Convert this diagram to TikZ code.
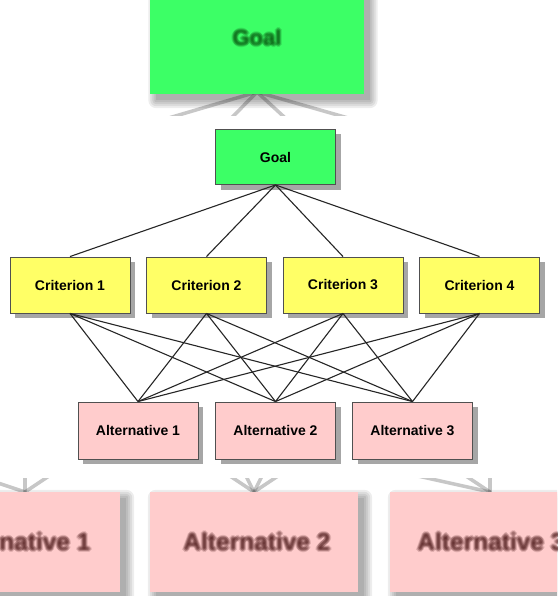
\documentclass[tikz,border=0pt]{standalone}
\usepackage{fontspec}
\setmainfont{Liberation Sans}
\usetikzlibrary{shadows,calc}
\definecolor{goalgreen}{RGB}{60,255,102}
\definecolor{crityellow}{RGB}{255,255,102}
\definecolor{altpink}{RGB}{255,204,204}
\definecolor{boxedge}{RGB}{80,80,80}
\tikzset{
  box/.style={draw=boxedge, line width=0.9pt, minimum width=120pt, minimum height=56pt,
    font=\bfseries\fontsize{14}{16}\selectfont, inner sep=0pt,
    drop shadow={shadow xshift=5pt, shadow yshift=-5pt, fill=black!35, opacity=1}},
  goalbox/.style={box, fill=goalgreen},
  critbox/.style={box, fill=crityellow},
  altbox/.style={box, fill=altpink},
  link/.style={draw=black!85, line width=1.1pt},
  bgbox/.style={inner sep=0pt, draw=none},
  bgline/.style={draw=black!55, line width=3.5pt, opacity=0.4, line cap=round},
  bgtext/.style={font=\bfseries\fontsize{22}{24}\selectfont, inner sep=0pt, text opacity=0.14},
  bgalttext/.style={bgtext, font=\bfseries\fontsize{24.5}{26}\selectfont}
}
% soft shadow behind a background box: #1 = node name
\newcommand{\softshadow}[1]{%
  \foreach \k in {0,2,4,6,8}
    \fill[black, opacity=0.07, rounded corners=\k pt]
      ($(#1.north west)+(6-\k,6-\k)$) rectangle ($(#1.south east)+(6+\k,6+\k)$);}
% blurred text: #1 = style, #2 = position, #3 = text, #4 = colour
\newcommand{\blurtext}[4]{%
  \foreach \bdx/\bdy in {-2/0,2/0,0/-2,0/2,-1/-1,1/1,1/-1,-1/1,0/0}
    \node[#1, text=#4] at ($(#2)+(\bdx,\bdy)$) {#3};}
\begin{document}
\begin{tikzpicture}[x=1pt,y=-1pt]
\useasboundingbox (0,0) rectangle (557,596);
\fill[white] (0,0) rectangle (557,596);
% ---- blurred top band
\begin{scope}
\clip (0,0) rectangle (557,116);
\coordinate (bgG) at (257,44);
\coordinate (bgGs) at (257,92);
\coordinate (bgL1) at (60,150);
\coordinate (bgL2) at (200,150);
\coordinate (bgL3) at (320,150);
\coordinate (bgL4) at (460,150);
\foreach \t in {bgL1,bgL2,bgL3,bgL4} \draw[bgline] (bgGs) -- (\t);
\node[bgbox, minimum width=213pt, minimum height=100pt] (bggoal) at (bgG) {};
\softshadow{bggoal}
\fill[goalgreen] (bggoal.north west) rectangle (bggoal.south east);
\blurtext{bgtext}{257,38}{Goal}{black!80!green}
\end{scope}
% ---- blurred bottom band
\begin{scope}
\clip (0,478) rectangle (557,596);
\coordinate (bgA1t) at (25,492);
\coordinate (bgA2t) at (254,492);
\coordinate (bgA3t) at (490,492);
\foreach \s in {-120,0,60} {
  \draw[bgline] (bgA1t) -- ++(\s,-40);
  \draw[bgline] (bgA3t) -- ++(\s-60,-40);
}
\foreach \s in {-60,-20,20,60} \draw[bgline] (bgA2t) -- ++(\s,-40);
\node[bgbox, minimum width=210pt, minimum height=100pt] (bgalt1) at (15,542) {};
\node[bgbox, minimum width=208pt, minimum height=100pt] (bgalt2) at (254,542) {};
\node[bgbox, minimum width=208pt, minimum height=100pt] (bgalt3) at (494,542) {};
\foreach \b in {bgalt1,bgalt2,bgalt3} {
  \softshadow{\b}
  \fill[altpink] (\b.north west) rectangle (\b.south east);
}
\blurtext{bgalttext}{17,542}{Alternative 1}{black!80!red}
\blurtext{bgalttext}{257,542}{Alternative 2}{black!80!red}
\blurtext{bgalttext}{491,542}{Alternative 3}{black!80!red}
\end{scope}
% ---- main diagram
\node[goalbox, minimum height=55pt] (goal) at (275.5,157) {Goal};
\node[critbox] (c1) at (70,285) {Criterion 1};
\node[critbox] (c2) at (206.5,285) {Criterion 2};
\node[critbox] (c3) at (343,285) {Criterion 3};
\node[critbox] (c4) at (479.5,285) {Criterion 4};
\node[altbox, minimum height=57pt] (a1) at (138,430.5) {Alternative 1};
\node[altbox, minimum height=57pt] (a2) at (275.5,430.5) {Alternative 2};
\node[altbox, minimum height=57pt] (a3) at (412.5,430.5) {Alternative 3};
\foreach \c in {c1,c2,c3,c4} {
  \draw[link] (goal.south) -- (\c.north);
  \foreach \a in {a1,a2,a3} \draw[link] (\c.south) -- (\a.north);
}
\end{tikzpicture}
\end{document}
